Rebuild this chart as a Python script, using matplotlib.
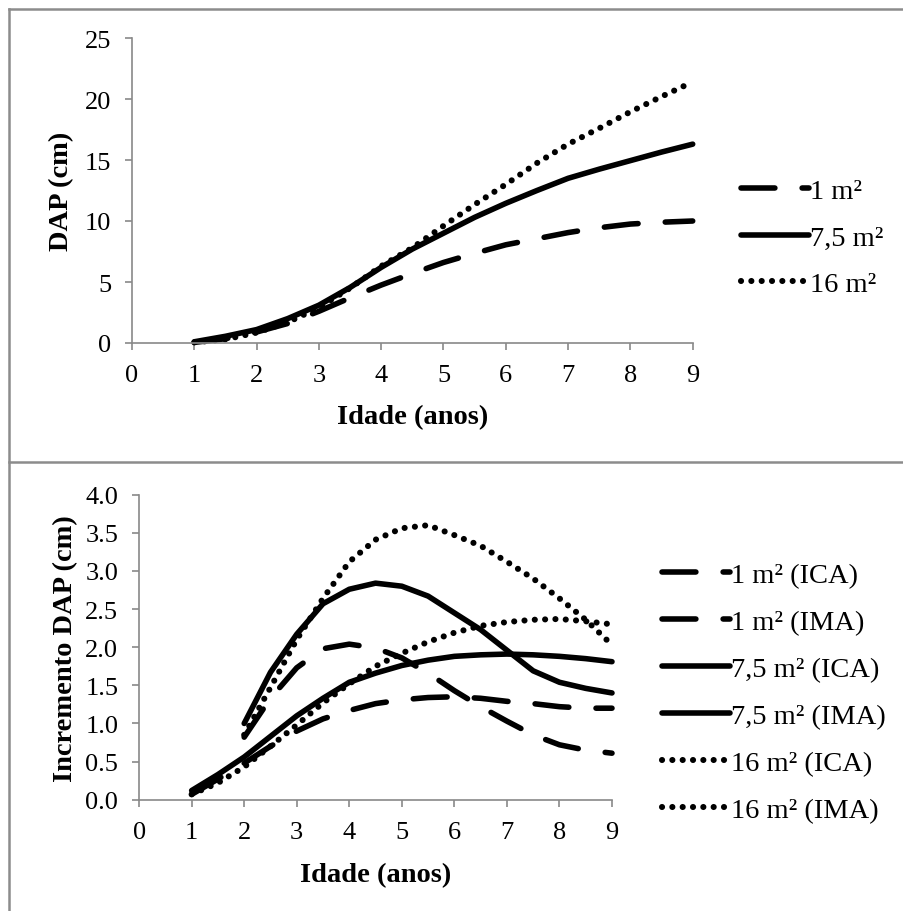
import matplotlib
matplotlib.use("Agg")
import matplotlib.pyplot as plt
from matplotlib.lines import Line2D

plt.rcParams['font.family'] = ['Liberation Serif', 'DejaVu Serif']

# ---------------- data ----------------
ages = [1, 1.5, 2, 2.5, 3, 3.5, 4, 4.5, 5, 5.5, 6, 6.5, 7, 7.5, 8, 8.5, 9]
ages_ica = [2, 2.5, 3, 3.5, 4, 4.5, 5, 5.5, 6, 6.5, 7, 7.5, 8, 8.5, 9]

dap_1 = [0.05, 0.35, 0.9, 1.6, 2.6, 3.7, 4.75, 5.7, 6.6, 7.35, 8.05, 8.55, 9.05, 9.45, 9.75, 9.9, 10.0]
dap_75 = [0.1, 0.55, 1.1, 2.0, 3.1, 4.55, 6.2, 7.7, 9.0, 10.3, 11.45, 12.5, 13.5, 14.25, 14.95, 15.65, 16.3]
dap_16 = [0.05, 0.3, 0.85, 1.7, 2.9, 4.5, 6.3, 7.8, 9.6, 11.35, 13.0, 14.75, 16.3, 17.6, 18.95, 20.2, 21.4]

ica_1 = [0.82, 1.33, 1.73, 1.98, 2.04, 1.99, 1.86, 1.66, 1.43, 1.22, 1.03, 0.85, 0.72, 0.65, 0.61]
ima_1 = [0.07, 0.27, 0.48, 0.7, 0.9, 1.06, 1.17, 1.26, 1.31, 1.34, 1.35, 1.33, 1.29, 1.26, 1.22, 1.2, 1.2]
ica_75 = [1.0, 1.67, 2.17, 2.57, 2.76, 2.84, 2.8, 2.67, 2.45, 2.23, 1.96, 1.69, 1.54, 1.46, 1.4]
ima_75 = [0.12, 0.33, 0.56, 0.83, 1.1, 1.33, 1.54, 1.66, 1.76, 1.83, 1.88, 1.9, 1.91, 1.9, 1.88, 1.85, 1.81]
ica_16 = [0.85, 1.47, 2.1, 2.64, 3.12, 3.41, 3.56, 3.6, 3.47, 3.33, 3.12, 2.9, 2.64, 2.36, 2.03]
ima_16 = [0.07, 0.22, 0.43, 0.7, 0.98, 1.27, 1.52, 1.75, 1.92, 2.07, 2.19, 2.28, 2.33, 2.36, 2.37, 2.34, 2.3]

top_labels = ['1 m²', '7,5 m²', '16 m²']
bot_labels = ['1 m² (ICA)', '1 m² (IMA)', '7,5 m² (ICA)', '7,5 m² (IMA)',
              '16 m² (ICA)', '16 m² (IMA)']
x_ticks = list(range(0, 10))
top_yticks = [0, 5, 10, 15, 20, 25]
bot_yticks = [0.0, 0.5, 1.0, 1.5, 2.0, 2.5, 3.0, 3.5, 4.0]

# ---------------- styles ----------------
W, H = 904, 912
LW = 4.0
DASH = dict(color='black', lw=LW, linestyle=(0, (6.1, 4.9)),
            dash_capstyle='round', solid_capstyle='round')
SOLID = dict(color='black', lw=LW, linestyle='-', solid_capstyle='round')
DOT = dict(color='black', lw=4.4, linestyle=(0, (0.01, 1.68)),
           dash_capstyle='round')
GRAY = '#898989'
TICK_FS = 19
LAB_FS = 20.5

fig = plt.figure(figsize=(W / 100, H / 100), dpi=100)


def px_axes(x0, y0, x1, y1):
    return fig.add_axes([x0 / W, 1 - y1 / H, (x1 - x0) / W, (y1 - y0) / H])


def style(ax):
    for s in ['top', 'right']:
        ax.spines[s].set_visible(False)
    for s in ['left', 'bottom']:
        ax.spines[s].set_color(GRAY)
        ax.spines[s].set_linewidth(1.2)
    ax.tick_params(axis='both', direction='out', length=5, width=1.2,
                   color=GRAY, labelsize=TICK_FS, labelcolor='black')
    ax.tick_params(axis='x', pad=10)
    ax.tick_params(axis='y', pad=10)
    ax.set_xlim(0, 9)
    ax.set_xticks(x_ticks)
    ax.set_xticklabels([str(t) for t in x_ticks])


# ---------------- top panel ----------------
ax1 = px_axes(132, 39, 692.7, 344)
style(ax1)
ax1.set_ylim(0, 25)
ax1.set_yticks(top_yticks)
ax1.set_yticklabels([str(t) for t in top_yticks])
l1, = ax1.plot(ages, dap_1, **DASH)
l2, = ax1.plot(ages, dap_75, **SOLID)
l3, = ax1.plot(ages, dap_16, **DOT)
for l in ax1.get_lines():
    l.set_clip_on(False)
ax1.set_xlabel('Idade (anos)', fontsize=LAB_FS, fontweight='bold', labelpad=13)
ax1.set_ylabel('DAP (cm)', fontsize=LAB_FS, fontweight='bold', labelpad=8)

leg1 = ax1.legend([l1, l2, l3], top_labels, loc='center left',
                  bbox_to_anchor=(741 / W, 1 - 238.5 / H),
                  bbox_transform=fig.transFigure, frameon=False,
                  fontsize=LAB_FS, handlelength=2.38, handletextpad=0.05,
                  labelspacing=0.72, borderpad=0, borderaxespad=0)

# ---------------- bottom panel ----------------
ax2 = px_axes(139.1, 495.7, 612, 800.7)
style(ax2)
ax2.set_ylim(0, 4)
ax2.set_yticks(bot_yticks)
ax2.set_yticklabels(['%.1f' % t for t in bot_yticks])
b1, = ax2.plot(ages_ica, ica_1, **DASH)
b2, = ax2.plot(ages, ima_1, **DASH)
b3, = ax2.plot(ages_ica, ica_75, **SOLID)
b4, = ax2.plot(ages, ima_75, **SOLID)
b5, = ax2.plot(ages_ica, ica_16, **DOT)
b6, = ax2.plot(ages, ima_16, **DOT)
for l in ax2.get_lines():
    l.set_clip_on(False)
ax2.set_xlabel('Idade (anos)', fontsize=LAB_FS, fontweight='bold', labelpad=14)
ax2.set_ylabel('Incremento DAP (cm)', fontsize=LAB_FS, fontweight='bold', labelpad=5)

leg2 = ax2.legend([b1, b2, b3, b4, b5, b6], bot_labels, loc='center left',
                  bbox_to_anchor=(662 / W, 1 - 693.9 / H),
                  bbox_transform=fig.transFigure, frameon=False,
                  fontsize=LAB_FS, handlelength=2.38, handletextpad=0.05,
                  labelspacing=0.74, borderpad=0, borderaxespad=0)

# ---------------- panel borders ----------------
BC = '#8c8c8c'
BW = 1.8
fig.add_artist(Line2D([9 / W, 9 / W], [0, 1 - 10 / H], color=BC, lw=BW,
                      transform=fig.transFigure))
fig.add_artist(Line2D([9 / W, 1], [1 - 10 / H, 1 - 10 / H], color=BC, lw=BW,
                      transform=fig.transFigure))
fig.add_artist(Line2D([9 / W, 1], [1 - 463 / H, 1 - 463 / H], color=BC, lw=BW,
                      transform=fig.transFigure))

fig.savefig('out.png', dpi=100, facecolor='white')
